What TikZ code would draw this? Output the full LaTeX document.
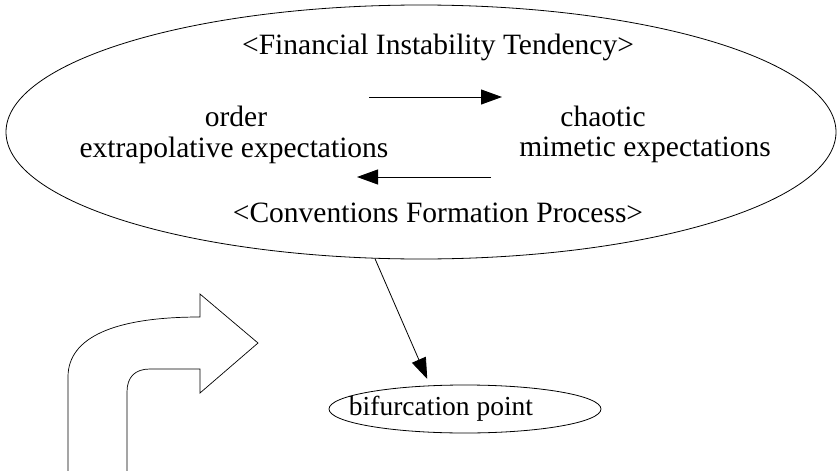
\documentclass[tikz,border=0pt]{standalone}
\usepackage{fontspec}
\setmainfont{Liberation Serif}
\usetikzlibrary{arrows.meta,shapes.geometric}

\begin{document}
\begin{tikzpicture}[
    x=1pt,
    y=-1pt,
    line width=.8pt,
    bubble/.style={
      draw,
      ellipse,
      inner sep=0,
    },
    label/.style={
      inner sep=0,
      align=center,
      font=\fontsize{29.5}{34}\selectfont,
    },
    flow/.style={
      line width=1pt,
      -{Triangle[length=21pt,width=15pt]},
    },
  ]
    \useasboundingbox (0,0) rectangle (838,471);

    % the two regimes inside the big ellipse
    \node[bubble,minimum width=830,minimum height=254] (regimes) at (421,132) {};
    \node[label] (tendency) at (438,47) {<Financial Instability Tendency>};
    \node[label] (order) at (236,116) {order};
    \node[label] (extrapol) at (234,150) {extrapolative expectations};
    \node[label] (chaotic) at (603,116) {chaotic};
    \node[label] (mimetic) at (645,150) {mimetic expectations};
    \node[label] (process) at (438,213) {<Conventions Formation Process>};
    \coordinate (fwdL) at (369,97);
    \coordinate (fwdR) at (502,97);
    \coordinate (bwdL) at (357,177);
    \coordinate (bwdR) at (491,177);
    \draw[flow] (fwdL) -- (fwdR);
    \draw[flow] (bwdR) -- (bwdL);

    % bifurcation
    \node[bubble,minimum width=272,minimum height=48] (bif) at (465,409) {};
    \node[label,font=\fontsize{27.5}{32}\selectfont] (bifText) at (441,409) {bifurcation point};
    \draw[flow,line width=.8pt,shorten >=7pt] (regimes.250) -- (bif.146);

    % bent arrow
    \draw[line width=.7pt] (68,471) -- (68,377)
      .. controls (68,337) and (115,317) .. (200,317)
      -- (200,294) -- (258,343) -- (200,393) -- (200,369) -- (150,369)
      .. controls (135,369) and (127,377) .. (127,392) -- (127,471);
  \end{tikzpicture}
\end{document}
